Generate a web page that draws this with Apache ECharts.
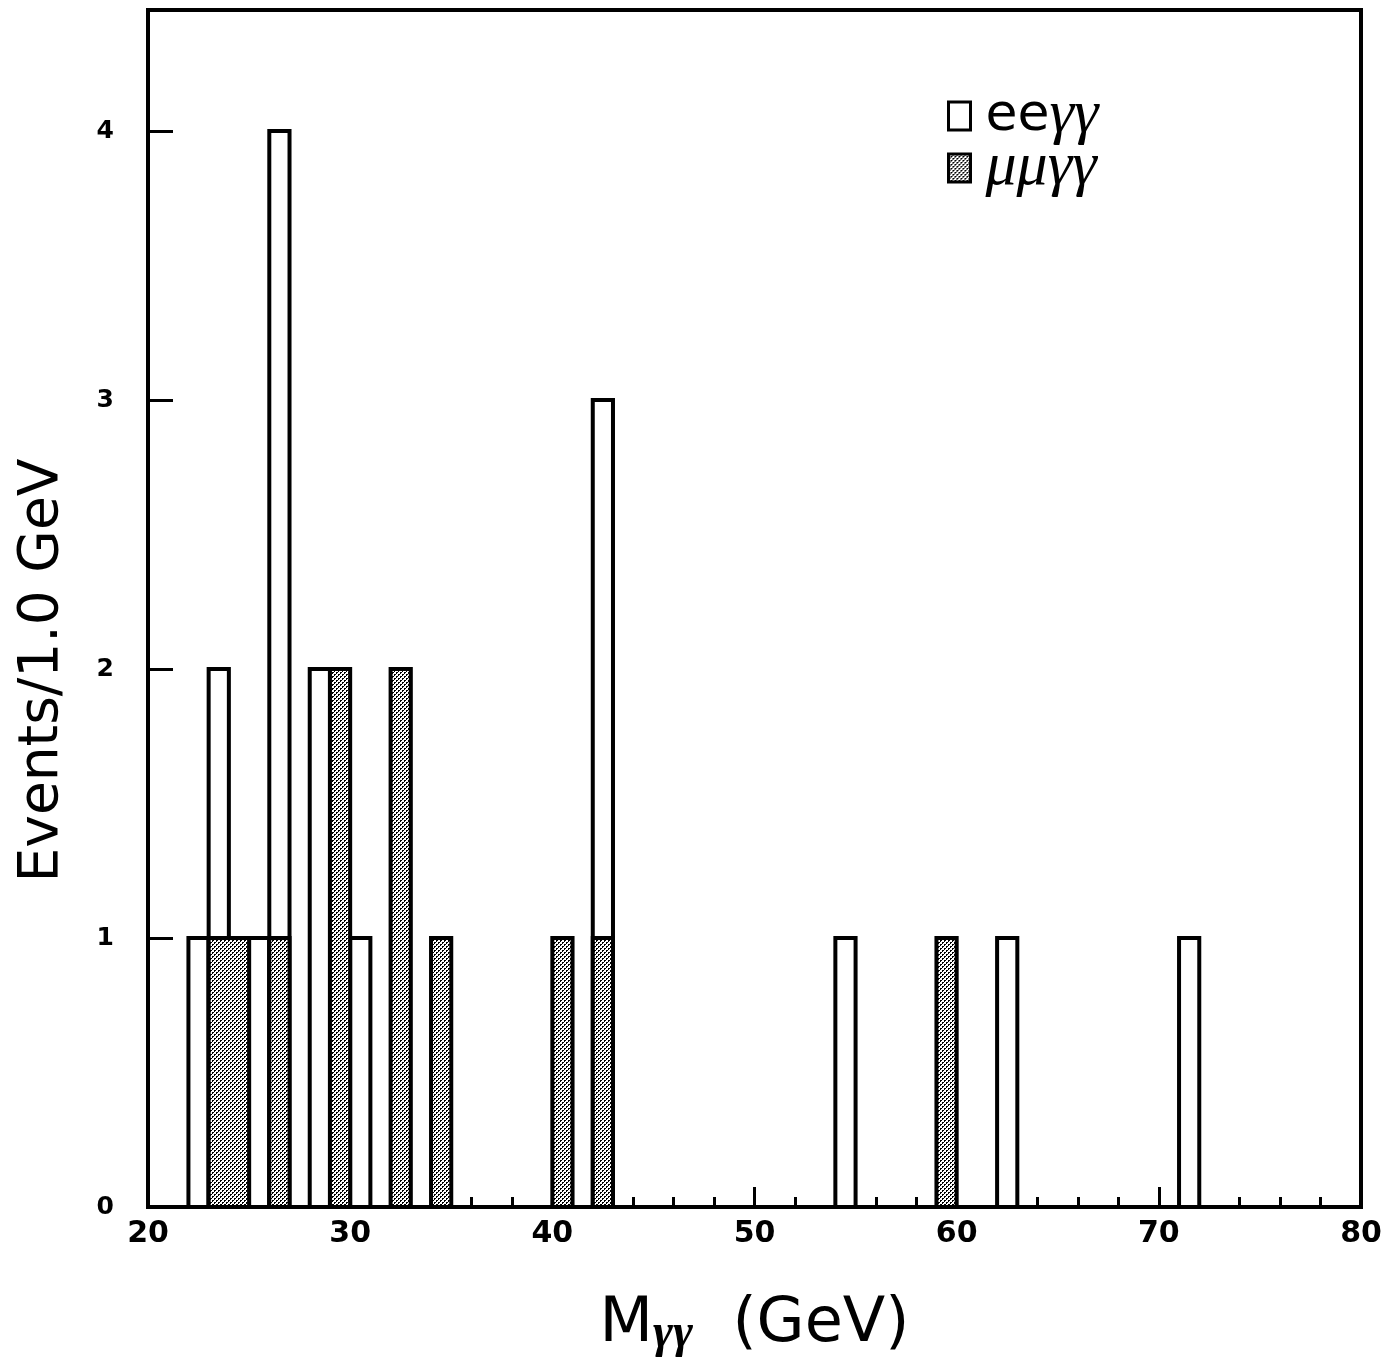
<!DOCTYPE html>
<html>
<head>
<meta charset="utf-8">
<style>
  html, body { margin: 0; padding: 0; background: #fff; }
  #chart { width: 1398px; height: 1366px; }
</style>
<script src="https://cdn.jsdelivr.net/npm/echarts@6/dist/echarts.min.js"></script>
</head>
<body>
<div id="chart"></div>
<script>
// Histogram of diphoton invariant mass, 1 GeV bins (bin given by its lower edge)
const eeBins   = [22, 23, 25, 26, 28, 30, 42, 54, 62, 71];
const eeCounts = [1, 2, 1, 4, 2, 1, 3, 1, 1, 1];
const mmBins   = [23, 24, 26, 29, 32, 34, 40, 42, 59];
const mmCounts = [1, 1, 1, 2, 2, 1, 1, 1, 1];
const binWidth = 1.0;

const xTicks = { min: 20, max: 80, step: 10 };
const yTicks = { min: 0, max: 4.45, step: 1 };

// Join neighbouring bins of equal height into one block, as a step histogram would draw them
function toBlocks(bins, counts) {
  const out = [];
  for (let i = 0; i < bins.length; i++) {
    const lo = bins[i], hi = bins[i] + binWidth, n = counts[i];
    const last = out[out.length - 1];
    if (last && last[1] === lo && last[2] === n) last[1] = hi;
    else out.push([lo, hi, n]);
  }
  return out;
}

// Stipple fill for the muon channel
function stipple() {
  const c = document.createElement('canvas');
  c.width = 4; c.height = 4;
  const g = c.getContext('2d');
  g.fillStyle = '#fff'; g.fillRect(0, 0, 4, 4);
  g.fillStyle = '#000';
  [[0,0],[1,0],[0,1],[2,2],[3,2],[2,3]].forEach(p => g.fillRect(p[0], p[1], 1, 1));
  return c;
}
const dotFill = { image: stipple(), repeat: 'repeat' };

function blockRenderer(fill) {
  return function (params, api) {
    const p0 = api.coord([api.value(0), 0]);
    const p1 = api.coord([api.value(1), api.value(2)]);
    return {
      type: 'rect',
      shape: { x: p0[0], y: p1[1], width: p1[0] - p0[0], height: p0[1] - p1[1] },
      style: { fill: fill, stroke: '#000', lineWidth: 4 }
    };
  };
}

const chart = echarts.init(document.getElementById('chart'), null, { renderer: 'canvas' });

chart.setOption({
  backgroundColor: '#fff',
  animation: false,
  grid: {
    left: 148, right: 37, top: 10, bottom: 159,
    show: true, borderColor: '#000', borderWidth: 4, backgroundColor: 'transparent'
  },
  legend: {
    orient: 'vertical',
    left: 942, top: 80,
    itemWidth: 22, itemHeight: 28, itemGap: -10,
    data: [
      { name: 'eeγγ', icon: 'rect', itemStyle: { color: '#fff', borderColor: '#000', borderWidth: 3 } },
      { name: 'μμγγ', icon: 'rect', itemStyle: { color: dotFill, borderColor: '#000', borderWidth: 3 } }
    ],
    formatter: function (name) {
      return name === 'eeγγ' ? '{a|ee}{g|γγ}' : '{g|μμγγ}';
    },
    textStyle: {
      padding: [0, 0, 0, 10],
      lineHeight: 46,
      rich: {
        a: { fontFamily: 'DejaVu Sans', fontSize: 52, color: '#000', lineHeight: 46 },
        g: { fontFamily: 'Liberation Serif', fontStyle: 'italic', fontSize: 62, color: '#000', lineHeight: 46 }
      }
    }
  },
  xAxis: {
    type: 'value',
    min: xTicks.min, max: xTicks.max, interval: xTicks.step,
    name: '{m|M}{s|γγ}{m|  (GeV)}',
    nameLocation: 'middle',
    nameGap: 84,
    nameTextStyle: {
      rich: {
        m: { fontFamily: 'DejaVu Sans', fontSize: 62, color: '#000', lineHeight: 68 },
        s: { fontFamily: 'Liberation Serif', fontStyle: 'italic', fontWeight: 'bold', fontSize: 48,
             color: '#000', lineHeight: 68, verticalAlign: 'bottom' }
      }
    },
    axisLine: { show: true, lineStyle: { color: '#000', width: 4 } },
    axisTick: { show: true, inside: true, length: 20, lineStyle: { color: '#000', width: 3 } },
    minorTick: { show: true, splitNumber: 5, length: 10, lineStyle: { color: '#000', width: 3 } },
    splitLine: { show: false },
    axisLabel: {
      margin: 12, color: '#000', fontFamily: 'DejaVu Sans', fontWeight: 'bold', fontSize: 30
    }
  },
  yAxis: {
    type: 'value',
    min: yTicks.min, max: yTicks.max, interval: yTicks.step,
    name: 'Events/1.0 GeV',
    nameLocation: 'middle',
    nameGap: 78,
    nameTextStyle: { fontFamily: 'DejaVu Sans', fontSize: 55, color: '#000', padding: [0, 124, 0, 0] },
    axisLine: { show: true, lineStyle: { color: '#000', width: 4 } },
    axisTick: { show: true, inside: true, length: 25, lineStyle: { color: '#000', width: 3 } },
    splitLine: { show: false },
    axisLabel: {
      margin: 34, color: '#000', fontFamily: 'DejaVu Sans', fontWeight: 'bold', fontSize: 25,
      showMaxLabel: false,
      formatter: v => (Number.isInteger(v) ? String(v) : '')
    }
  },
  series: [
    {
      name: 'eeγγ',
      type: 'custom',
      renderItem: blockRenderer('#fff'),
      itemStyle: { color: '#fff', borderColor: '#000', borderWidth: 3 },
      encode: { x: [0, 1], y: 2 },
      data: toBlocks(eeBins, eeCounts),
      z: 3
    },
    {
      name: 'μμγγ',
      type: 'custom',
      renderItem: blockRenderer(dotFill),
      itemStyle: { color: dotFill, borderColor: '#000', borderWidth: 3 },
      encode: { x: [0, 1], y: 2 },
      data: toBlocks(mmBins, mmCounts),
      z: 4
    }
  ]
});
</script>
</body>
</html>
